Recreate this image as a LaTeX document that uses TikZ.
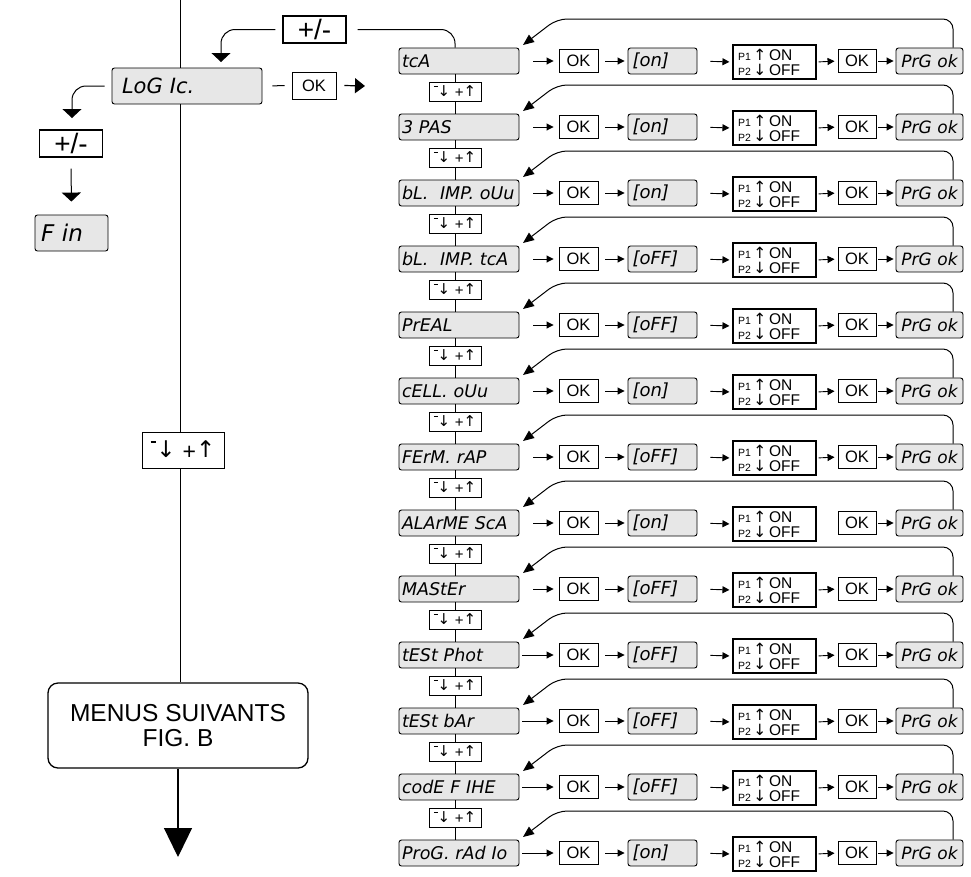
\documentclass[tikz,border=0pt]{standalone}
\usepackage{fontspec}
\setmainfont{Liberation Sans}
\newfontfamily\lcdfont{DejaVu Sans}[ItalicFont={DejaVu Sans Oblique}]
\newfontfamily\djv{DejaVu Sans}
\usetikzlibrary{arrows.meta}
\definecolor{lcdgray}{RGB}{231,231,231}
\newcommand\lcdsize[1]{\lcdfont\itshape\fontsize{#1}{#1}\selectfont}
\newcommand\stepsym{\raisebox{0.62em}{\rule{0.25em}{0.08em}}{\djv ↓}\hspace{0.3em}\raisebox{-0.1em}{+}{\djv ↑}}
\newcommand\ponoff{{\fontsize{10.5}{10}\selectfont P1}\,{\djv ↑}\,ON\\{\fontsize{10.5}{10}\selectfont P2}\,{\djv ↓}\,OFF}
\begin{document}
\begin{tikzpicture}[x=1pt,y=-1pt,line width=1pt,
  disp/.style={draw, fill=lcdgray, rounded corners=2.5pt, line width=0.9pt, inner xsep=4pt, inner ysep=0pt, minimum height=26pt, align=left, font=\lcdsize{17.5}},
  okb/.style={draw, line width=0.9pt, minimum width=39pt, minimum height=23pt, inner sep=0pt, font=\fontsize{16.5}{16}\selectfont},
  pbox/.style={draw, line width=1.1pt, minimum width=83pt, minimum height=34pt, inner xsep=5pt, inner ysep=0pt, text width=73pt, align=left, font=\fontsize{15.5}{15}\selectfont},
  stepb/.style={draw, fill=white, line width=0.9pt, minimum width=52pt, minimum height=19pt, inner sep=0pt, font=\fontsize{15}{15}\selectfont},
  pmb/.style={draw, line width=1.1pt, minimum width=63pt, minimum height=27pt, inner sep=0pt, font=\fontsize{28}{28}\selectfont},
  ar/.style={-{Triangle[length=7pt,width=7pt]}, line width=0.9pt},
  lp/.style={-{Triangle[length=11pt,width=9pt]}, line width=1pt, rounded corners=10pt},
  da/.style={-{Triangle[length=9pt,width=19pt]}, line width=1pt}]
\useasboundingbox (0,0) rectangle (971,876);

% ---------- left panel ----------
\node[pmb] (PMa) at (314.5,29.5) {+/-};
\node[disp, minimum width=150pt, text width=130pt, inner xsep=10pt, minimum height=36pt, font=\lcdsize{21}] (LoG) at (187,86) {LoG Ic.};
\node[okb, minimum width=44pt, minimum height=27pt] (OK0) at (314,85.5) {OK};
\coordinate (okt) at (365,86);
\draw[shorten <=10pt, shorten >=7pt] (LoG.east) -- (OK0.west);
\draw[-{Triangle[length=10pt,width=15pt]}, line width=1.2pt] ([xshift=8pt]OK0.east) -- (okt);
\coordinate (dA) at (221,62);
\draw[da, rounded corners=14pt] ([xshift=-7pt]PMa.west) -| (dA);
\coordinate (dB) at (72,118);
\draw[da, rounded corners=14pt] ([xshift=-7pt]LoG.west) -| (dB);
\node[pmb] (PMb) at (71,143.5) {+/-};
\node[disp, minimum width=73pt, text width=61pt, inner xsep=6pt, minimum height=36pt, font=\lcdsize{23}] (Fin) at (71.5,233) {F in};
\draw[da, shorten <=11pt, shorten >=13pt] (PMb.south) -- (Fin.north);

\node[draw, fill=white, line width=1pt, minimum width=82pt, minimum height=36pt, inner sep=0pt, font=\fontsize{23}{23}\selectfont] (SL) at (183,450) {\stepsym};
\node[draw, line width=1.3pt, rounded corners=10pt, minimum width=260pt, minimum height=85pt, align=center, font=\fontsize{24.5}{25}\selectfont] (MN) at (178,725.5) {MENUS SUIVANTS\\FIG. B};
\coordinate (mt) at (180,0);
\draw (mt) -- (mt |- LoG.north);
\draw (mt |- LoG.south) -- (mt |- SL.north);
\draw (mt |- SL.south) -- (mt |- MN.north);
\coordinate (mb) at (178,857);
\draw[-{Triangle[length=29pt,width=28pt]}, line width=1.2pt] (MN.south) -- (mb);

% ---------- rows ----------
\foreach \n/\v [count=\i from 0] in {tcA/on, 3 PAS/on, bL.\ \ IMP. oUu/on, bL.\ \ IMP. tcA/oFF, PrEAL/oFF, cELL. oUu/on, FErM. rAP/oFF, ALArME ScA/on, MAStEr/oFF, tESt Phot/oFF, tESt bAr/oFF, codE F IHE/oFF, ProG. rAd Io/on}{
  \pgfmathsetmacro\y{61+66*\i}
  \pgfmathsetmacro\yl{\y-42}
  \pgfmathsetmacro\yt{\y-16}
  \node[disp, minimum width=120pt, text width=114pt, inner xsep=3pt] (L\i) at (459,\y) {\mbox{\n}};
  \node[okb] (K\i) at (578.5,\y) {OK};
  \node[disp, minimum width=69pt, text width=60pt, inner xsep=4.5pt, font=\lcdsize{18}] (V\i) at (662.5,\y) {[\v]};
  \node[pbox] (P\i) at (774.5,\y+1) {\ponoff};
  \node[okb, minimum width=38pt] (Q\i) at (857,\y) {OK};
  \node[disp, minimum width=67pt, text width=63pt, inner xsep=2pt, align=center, font=\lcdsize{17}] (G\i) at (929.5,\y) {PrG ok};
  \ifnum\i>8
    \draw[ar, shorten <=3pt, shorten >=5pt] (L\i.east) -- (K\i.west);
  \else
    \draw[ar, shorten <=14pt, shorten >=5pt] (L\i.east) -- (K\i.west);
  \fi
  \draw[ar, shorten <=7pt, shorten >=3pt] (K\i.east) -- (V\i.west);
  \draw[ar, shorten <=13pt, shorten >=3pt] (V\i.east) -- (P\i.west);
  \ifnum\i=7 \else
    \draw[ar, shorten <=2pt, shorten >=3pt] (P\i.east) -- (Q\i.west);
  \fi
  \draw[ar, shorten <=2pt, shorten >=2pt] (Q\i.east) -- (G\i.west);
  \coordinate (T\i) at (523,\yt);
  \draw[lp] ([xshift=23.5pt]G\i.north) |- (557,\yl) -- (T\i);
}

\foreach \i in {0,...,11}{
  \pgfmathsetmacro\ys{61+66*\i+30.5}
  \node[stepb] (S\i) at (455,\ys) {\stepsym};
}
\foreach \i [evaluate=\i as \j using int(\i+1)] in {0,...,11}{
  \draw (S\i.north) -- (S\i.north |- L\i.south);
  \draw (S\i.south) -- (S\i.south |- L\j.north);
}
\draw[rounded corners=14pt] ([xshift=11pt]PMa.east) -| (L0.north -| S0.north);
\end{tikzpicture}
\end{document}
